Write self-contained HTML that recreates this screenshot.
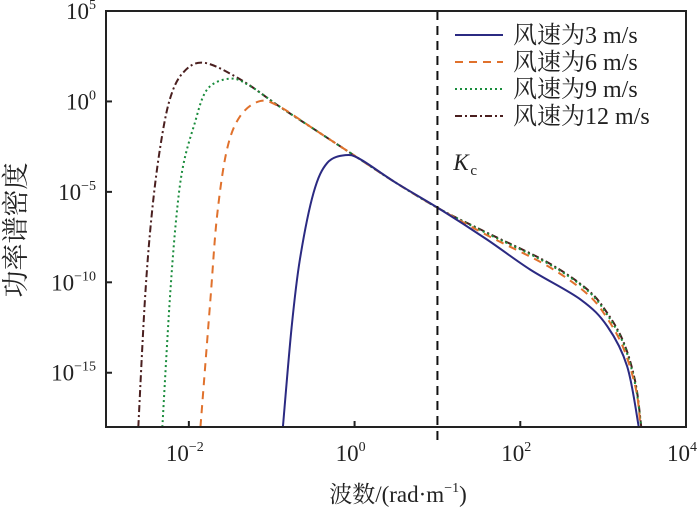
<!DOCTYPE html>
<html><head><meta charset="utf-8"><style>
body{margin:0;background:#fff;}
svg text{font-family:"Liberation Serif","Noto Serif CJK SC",serif;fill:#222;}
</style></head><body>
<svg id="c" width="700" height="508"></svg>
<script>
const xTicks=[-2,0,2,4];
const yTicks=[5,0,-5,-10,-15];
const seriesNames=["风速为3 m/s","风速为6 m/s","风速为9 m/s","风速为12 m/s"];
const kc=1;
const k3=[-0.865,-0.76,-0.66,-0.495,-0.33,-0.11,0.07,0.5,1.04,1.6,2.12,2.73,3.05,3.29,3.43];
const s3=[-18,-12.5,-8.74,-5.05,-3.4,-2.97,-3.2,-4.5,-5.98,-7.64,-9.3,-10.96,-12.43,-14.65,-18];
const k6=[-1.86,-1.74,-1.66,-1.54,-1.38,-1.14,-0.9,-0.5,0,0.5,1.04,1.6,2.33,2.81,3.05,3.25,3.4,3.45];
const s6=[-18,-10.96,-6.35,-2.66,-0.81,0.02,-0.3,-1.5,-3.0,-4.5,-5.98,-7.4,-9.1,-10.65,-12.0,-13.7,-16,-18];
const k9=[-2.32,-2.23,-2.15,-2.07,-1.94,-1.78,-1.5,-1.26,-0.9,-0.5,0,0.5,1.04,1.6,2.33,2.81,3.05,3.25,3.39,3.46];
const s9=[-18,-10.96,-6.35,-3.58,-1.37,0.66,1.26,0.85,-0.3,-1.5,-3.0,-4.5,-5.98,-7.3,-8.95,-10.45,-11.8,-13.45,-15.7,-18];
const k12=[-2.61,-2.53,-2.45,-2.35,-2.23,-2.07,-1.82,-1.38,-0.9,-0.5,0,0.5,1.04,1.6,2.33,2.81,3.05,3.25,3.39,3.46];
const s12=[-18,-10.96,-6.35,-2.66,0.11,1.59,2.14,1.22,-0.3,-1.5,-3.0,-4.5,-5.98,-7.26,-8.9,-10.4,-11.7,-13.35,-15.55,-18];

const L=106,R=686,T=11,B=427;
const X=v=>L+(v+3)/7*(R-L);
const Y=v=>T+(5-v)/23*(B-T);
const svg=document.getElementById('c');
const NS='http://www.w3.org/2000/svg';
function mk(t,a,p){const e=document.createElementNS(NS,t);for(const k in a)e.setAttribute(k,a[k]);(p||svg).appendChild(e);return e;}
function smooth(xs,ys){const P=xs.map((x,i)=>[X(x),Y(ys[i])]);let d='M'+P[0][0]+','+P[0][1];
for(let i=0;i<P.length-1;i++){const p0=P[i-1]||P[i],p1=P[i],p2=P[i+1],p3=P[i+2]||P[i+1];
d+=` C${p1[0]+(p2[0]-p0[0])/6},${p1[1]+(p2[1]-p0[1])/6} ${p2[0]-(p3[0]-p1[0])/6},${p2[1]-(p3[1]-p1[1])/6} ${p2[0]},${p2[1]}`;}return d;}
const defs=mk('defs',{});const cp=mk('clipPath',{id:'cl'},defs);mk('rect',{x:L,y:T,width:R-L,height:B-T},cp);
const styles=[{c:'#2b2a82',d:''},{c:'#e0712c',d:'8,6'},{c:'#1a8c3c',d:'2,3'},{c:'#4a1f1f',d:'7,3,2,3'}];
const KS=[k3,k6,k9,k12],SS=[s3,s6,s9,s12];
const g=mk('g',{'clip-path':'url(#cl)'});


for(let i=3;i>=0;i--){const p=mk('path',{d:smooth(KS[i],SS[i]),fill:'none',stroke:styles[i].c,'stroke-width':2,'stroke-dasharray':styles[i].d},g);

}
const kl=mk('line',{x1:X(kc),x2:X(kc),y1:T,y2:B+14,stroke:'#111','stroke-width':2,'stroke-dasharray':'9,6'});


const kt=mk('text',{x:X(kc)+16,y:170,'font-size':23,'font-style':'italic'});kt.textContent='K';


const ks=mk('text',{x:X(kc)+33,y:175,'font-size':15});ks.textContent='c';


const fr=mk('rect',{x:L,y:T,width:R-L,height:B-T,fill:'none',stroke:'#222','stroke-width':2});


xTicks.forEach(v=>{const x=X(v);
if(v<4){const t=mk('line',{x1:x,x2:x,y1:B,y2:B-6,stroke:'#222','stroke-width':2});}
const tx=mk('text',{x:x-4,y:B+34,'font-size':23,'text-anchor':'middle'});
tx.innerHTML='10<tspan font-size="14" dy="-10">'+(v<0?'−'+(-v):v)+'</tspan>';

});
yTicks.forEach(v=>{const y=Y(v);
if(v<5){const t=mk('line',{x1:L,x2:L+6,y1:y,y2:y,stroke:'#222','stroke-width':2});}
const tx=mk('text',{x:96,y:y+8,'font-size':23,'text-anchor':'end'});
tx.innerHTML='10<tspan font-size="14" dy="-10">'+(v<0?'−'+(-v):v)+'</tspan>';

});
const xt=mk('text',{x:398,y:502,'font-size':23,'text-anchor':'middle'});
xt.innerHTML='波数/(rad·m<tspan font-size="14" dy="-10">−1</tspan><tspan dy="10">)</tspan>';


const yt=mk('text',{x:0,y:0,'font-size':27,'text-anchor':'middle',transform:'translate(25,230) rotate(-90)'});
yt.textContent='功率谱密度';


const lg=mk('g',{});


const ly=[35,62,89,116];
seriesNames.forEach((n,i)=>{
const ln=mk('line',{x1:455,x2:503,y1:ly[i],y2:ly[i],stroke:styles[i].c,'stroke-width':2,'stroke-dasharray':styles[i].d},lg);


const t=mk('text',{x:513,y:ly[i]+8,'font-size':24},lg);t.textContent=n;

});
</script>
</body></html>
